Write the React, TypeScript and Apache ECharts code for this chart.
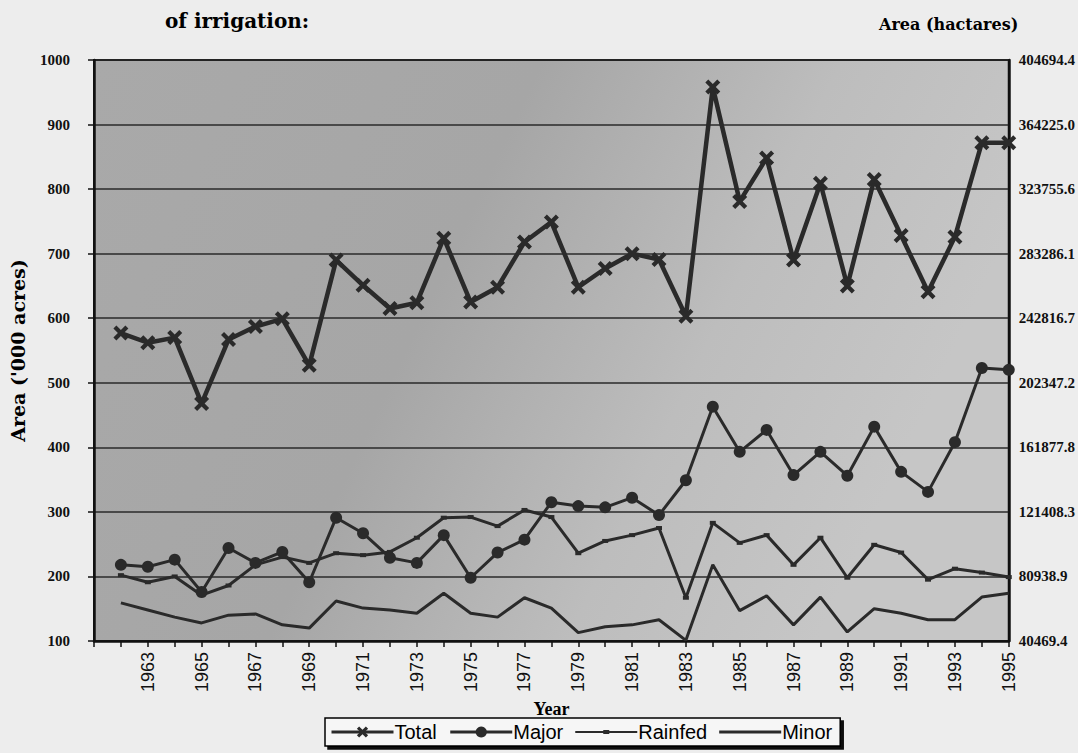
import React, { useEffect, useRef } from "react";
import * as echarts from "echarts";

const years = [1962, 1963, 1964, 1965, 1966, 1967, 1968, 1969, 1970, 1971, 1972, 1973, 1974, 1975, 1976, 1977, 1978, 1979, 1980, 1981, 1982, 1983, 1984, 1985, 1986, 1987, 1988, 1989, 1990, 1991, 1992, 1993, 1994, 1995];
const total = [577, 562, 570, 468, 567, 587, 599, 527, 690, 651, 615, 624, 724, 625, 648, 718, 749, 648, 677, 700, 691, 603, 958, 781, 848, 690, 809, 650, 815, 728, 641, 726, 872, 872];
const major = [218, 215, 226, 176, 244, 221, 238, 191, 291, 267, 229, 221, 264, 198, 237, 257, 315, 309, 307, 322, 295, 349, 463, 393, 427, 357, 393, 356, 432, 362, 331, 408, 523, 520];
const rainfed = [202, 191, 200, 171, 186, 218, 230, 221, 236, 233, 238, 260, 291, 292, 278, 303, 292, 236, 255, 264, 275, 167, 283, 252, 264, 218, 260, 198, 249, 237, 195, 212, 206, 199];
const minor = [159, 148, 137, 128, 140, 142, 125, 120, 162, 151, 148, 143, 174, 143, 137, 167, 151, 113, 122, 125, 133, 101, 218, 147, 170, 125, 168, 114, 150, 143, 133, 133, 168, 174];
const acreTicks = [100, 200, 300, 400, 500, 600, 700, 800, 900, 1000];
const hectareLabels = ["40469.4", "80938.9", "121408.3", "161877.8", "202347.2", "242816.7", "283286.1", "323755.6", "364225.0", "404694.4"];

const pairs = (vals: number[]) => years.map((y, i) => [y, vals[i]]);

const X_PATH = "path://M2,0 L5,3 L8,0 L10,2 L7,5 L10,8 L8,10 L5,7 L2,10 L0,8 L3,5 L0,2 Z";
const LINE_ICON = "path://M0,0 L62,0 L62,3 L0,3 Z";
const DASH_ICON = "path://M0,1 L28,1 L28,0 L34,0 L34,1 L62,1 L62,3 L34,3 L34,4 L28,4 L28,3 L0,3 Z";
const INK = "#2a2a2a";

export default function App() {
  const ref = useRef<HTMLDivElement>(null);
  useEffect(() => {
    if (!ref.current) return;
    const chart = echarts.init(ref.current, null, { renderer: "svg" });
    chart.setOption({
      animation: false,
      backgroundColor: "#ededed",
      title: [
        {
          text: "of irrigation:",
          left: 160,
          top: 6,
          textStyle: { fontFamily: "DejaVu Serif", fontWeight: "bold", fontSize: 20, color: "#000" },
        },
        {
          text: "Area (hactares)",
          left: 874,
          top: 11,
          textStyle: { fontFamily: "DejaVu Serif", fontWeight: "bold", fontSize: 16, color: "#000" },
        },
      ],
      legend: {
        left: 325,
        top: 718,
        padding: [4, 8, 4, 5],
        itemWidth: 62,
        itemHeight: 14,
        itemGap: 12,
        backgroundColor: "#f6f6f6",
        borderColor: "#000",
        borderWidth: 1.5,
        shadowColor: "#111",
        shadowOffsetX: 3,
        shadowOffsetY: 3,
        shadowBlur: 0,
        lineStyle: { width: 3 },
        textStyle: { fontFamily: "Liberation Sans", fontSize: 20, color: "#000", padding: [0, 0, 0, -4] },
        data: [
          { name: "Total" },
          { name: "Major" },
          { name: "Rainfed", icon: DASH_ICON, itemStyle: { color: INK } },
          { name: "Minor", icon: LINE_ICON, itemStyle: { color: INK } },
        ],
      },
      grid: {
        left: 89,
        right: 66,
        top: 60,
        bottom: 112,
        show: true,
        borderColor: "#111",
        borderWidth: 2,
        backgroundColor: {
          type: "linear",
          x: 0,
          y: 0,
          x2: 1,
          y2: 0.3,
          colorStops: [
            { offset: 0, color: "#a9a9a9" },
            { offset: 0.45, color: "#a6a6a6" },
            { offset: 0.75, color: "#bdbdbd" },
            { offset: 1, color: "#c6c6c6" },
          ],
        },
      },
      xAxis: {
        type: "value",
        min: 1961,
        max: 1995,
        interval: 1,
        name: "Year",
        nameLocation: "middle",
        nameGap: 58,
        nameTextStyle: { fontFamily: "Liberation Serif", fontWeight: "bold", fontSize: 18, color: "#000" },
        axisLine: { show: true, onZero: false, lineStyle: { color: "#111", width: 2.5 } },
        axisTick: { show: true, length: 6, lineStyle: { color: "#111", width: 1.5 } },
        splitLine: { show: false },
        axisLabel: {
          rotate: 90,
          margin: 11,
          fontFamily: "Liberation Sans",
          fontSize: 18,
          color: "#111",
          formatter: (v: number) => (v >= 1963 && v % 2 === 1 ? String(v) : ""),
        },
      },
      yAxis: [
        {
          type: "value",
          min: 100,
          max: 1000,
          interval: 100,
          position: "left",
          name: "Area ('000 acres)",
          nameLocation: "middle",
          nameGap: 67,
          nameTextStyle: { fontFamily: "DejaVu Serif", fontWeight: "bold", fontSize: 19, color: "#000" },
          axisLine: { show: true, lineStyle: { color: "#111", width: 2.5 } },
          axisTick: { show: true, length: 6, lineStyle: { color: "#111", width: 1.5 } },
          splitLine: { show: true, lineStyle: { color: INK, width: 1.6 } },
          axisLabel: {
            margin: 24,
            fontFamily: "Liberation Serif",
            fontWeight: "bold",
            fontSize: 15,
            color: "#111",
            formatter: (v: number) => String(v),
          },
        },
        {
          type: "value",
          min: 100,
          max: 1000,
          interval: 100,
          position: "right",
          axisLine: { show: true, lineStyle: { color: "#111", width: 2.5 } },
          axisTick: { show: false },
          splitLine: { show: false },
          axisLabel: {
            margin: 10,
            fontFamily: "Liberation Serif",
            fontWeight: "bold",
            fontSize: 15,
            color: "#111",
            formatter: (v: number) => {
              const i = acreTicks.indexOf(Math.round(v));
              return i >= 0 ? hectareLabels[i] : "";
            },
          },
        },
      ],
      series: [
        {
          name: "Total",
          type: "line",
          yAxisIndex: 0,
          data: pairs(total),
          symbol: X_PATH,
          symbolSize: 15,
          lineStyle: { color: INK, width: 4.5 },
          itemStyle: { color: INK },
          z: 5,
        },
        {
          name: "Major",
          type: "line",
          yAxisIndex: 0,
          data: pairs(major),
          symbol: "circle",
          symbolSize: 12,
          lineStyle: { color: INK, width: 3 },
          itemStyle: { color: INK },
          z: 4,
        },
        {
          name: "Rainfed",
          type: "line",
          yAxisIndex: 0,
          data: pairs(rainfed),
          symbol: "rect",
          symbolSize: [6, 4],
          lineStyle: { color: INK, width: 3 },
          itemStyle: { color: INK },
          z: 3,
        },
        {
          name: "Minor",
          type: "line",
          yAxisIndex: 0,
          data: pairs(minor),
          symbol: "none",
          showSymbol: false,
          lineStyle: { color: INK, width: 3 },
          itemStyle: { color: INK },
          z: 3,
        },
      ],
    });
    return () => chart.dispose();
  }, []);
  return (
    <div
      ref={ref}
      style={{ position: "fixed", left: 0, top: 0, width: 1078, height: 753 }}
    />
  );
}
